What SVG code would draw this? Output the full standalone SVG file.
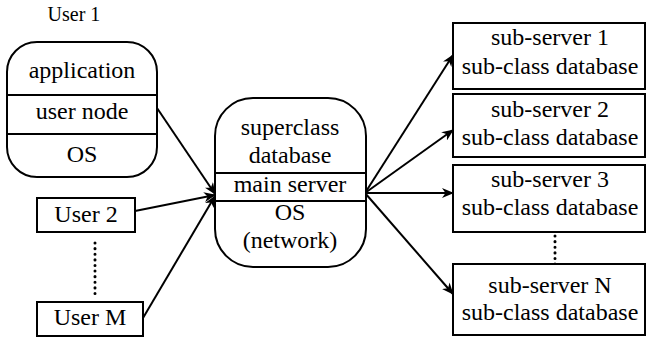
<svg xmlns="http://www.w3.org/2000/svg" width="647" height="338" viewBox="0 0 647 338">
<style>
  text { font-family: "Liberation Serif", "Times New Roman", serif; font-size: 24px; fill: #000; text-anchor: middle; }
  text.title { font-size: 20px; }
  .box { fill: #fff; stroke: #000; stroke-width: 2; }
  .div { stroke: #000; stroke-width: 2; }
  .conn { stroke: #000; stroke-width: 2; fill: none; marker-end: url(#arr); }
  .dots { stroke: #000; stroke-width: 3; stroke-dasharray: 0.1 5.5; stroke-linecap: round; fill: none; }
</style>
<defs>
  <marker id="arr" viewBox="0 0 12 10" refX="11" refY="5" markerWidth="12" markerHeight="10" markerUnits="userSpaceOnUse" orient="auto">
    <path d="M0,0 L12,5 L0,10 L3.5,5 z" fill="#000"/>
  </marker>
</defs>
<rect width="647" height="338" fill="#fff"/>

<g id="connectors">
  <line class="conn" x1="157" y1="108" x2="215" y2="194"/>
  <line class="conn" x1="135" y1="211" x2="215" y2="195"/>
  <line class="conn" x1="143" y1="318" x2="215" y2="196"/>
  <line class="conn" x1="365" y1="193" x2="453" y2="55"/>
  <line class="conn" x1="365" y1="193" x2="453" y2="130"/>
  <line class="conn" x1="365" y1="193" x2="453" y2="193"/>
  <line class="conn" x1="365" y1="193" x2="453" y2="294"/>
  <line class="dots" x1="95" y1="243" x2="95" y2="297"/>
  <line class="dots" x1="555" y1="236" x2="555" y2="266"/>
</g>

<g id="user1">
  <text class="title" x="74" y="21">User 1</text>
  <rect class="box" x="7" y="42" width="150" height="135" rx="30" ry="30"/>
  <line class="div" x1="7" y1="95" x2="157" y2="95"/>
  <line class="div" x1="7" y1="134" x2="157" y2="134"/>
  <text x="82" y="78">application</text>
  <text x="82" y="119">user node</text>
  <text x="82" y="162">OS</text>
</g>

<g id="user2">
  <rect class="box" x="37" y="198" width="98" height="34"/>
  <text x="86" y="222">User 2</text>
</g>

<g id="userM">
  <rect class="box" x="37" y="302" width="106" height="34"/>
  <text x="90" y="325">User M</text>
</g>

<g id="main">
  <rect class="box" x="215" y="98" width="151" height="169" rx="38" ry="38"/>
  <line class="div" x1="215" y1="173" x2="366" y2="173"/>
  <line class="div" x1="215" y1="201" x2="366" y2="201"/>
  <text x="290" y="135">superclass</text>
  <text x="290" y="163">database</text>
  <text x="290" y="192">main server</text>
  <text x="290" y="220">OS</text>
  <text x="290" y="248">(network)</text>
</g>

<g id="sub1">
  <rect class="box" x="453" y="23" width="192" height="66"/>
  <text x="550" y="45">sub-server 1</text>
  <text x="550" y="74">sub-class database</text>
</g>

<g id="sub2">
  <rect class="box" x="453" y="94" width="192" height="63"/>
  <text x="550" y="117">sub-server 2</text>
  <text x="550" y="145">sub-class database</text>
</g>

<g id="sub3">
  <rect class="box" x="453" y="165" width="192" height="67"/>
  <text x="550" y="187">sub-server 3</text>
  <text x="550" y="215">sub-class database</text>
</g>

<g id="subN">
  <rect class="box" x="453" y="264" width="192" height="71"/>
  <text x="550" y="293">sub-server N</text>
  <text x="550" y="320">sub-class database</text>
</g>
</svg>
